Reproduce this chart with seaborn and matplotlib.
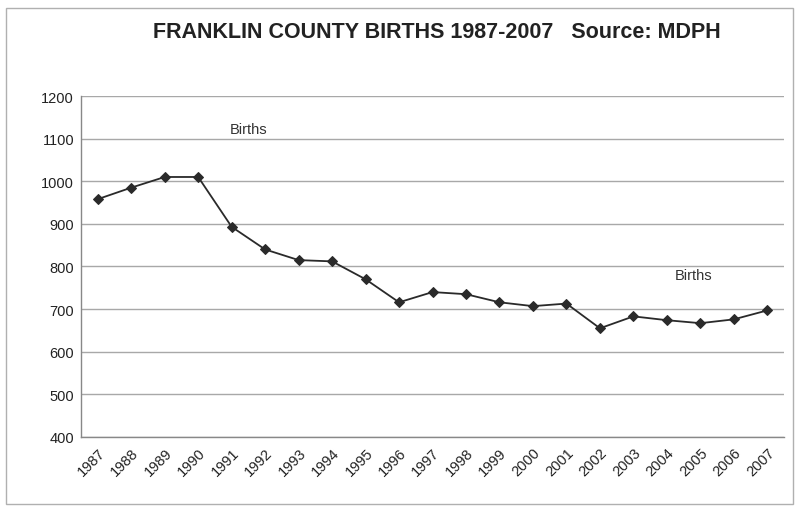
import matplotlib
matplotlib.use("Agg")
import matplotlib.pyplot as plt
from matplotlib.patches import Rectangle
import numpy as np
import pandas as pd
import seaborn as sns

years = [str(y) for y in range(1987, 2008)]
births = [958, 985, 1010, 1010, 893, 840, 815, 812, 770, 716, 740,
          735, 716, 707, 713, 655, 683, 674, 667, 676, 697]
y_ticks = [400, 500, 600, 700, 800, 900, 1000, 1100, 1200]
title = "FRANKLIN COUNTY BIRTHS 1987-2007   Source: MDPH"

sns.set_theme(style="white")
plt.rcParams["font.family"] = ["Liberation Sans", "DejaVu Sans"]

df = pd.DataFrame({"Year": years, "Births": births})

fig = plt.figure(figsize=(7.99, 5.10), dpi=100)
fig.patches.append(Rectangle((0.007, 0.01), 0.986, 0.972, transform=fig.transFigure,
                             fill=False, edgecolor="#b0b0b0", linewidth=1.0))
ax = fig.add_axes([0.1014, 0.1412, 0.8799, 0.6686])

sns.lineplot(data=df, x="Year", y="Births", ax=ax, color="#2a2a2a",
             marker="D", markersize=5.5, markeredgecolor="#2a2a2a",
             linewidth=1.3, sort=False)

ax.set_ylim(400, 1200)
ax.set_yticks(y_ticks)
ax.set_yticklabels([str(v) for v in y_ticks], fontsize=10.5, color="#222222")
ax.yaxis.grid(True, color="#a8a8a8", linewidth=1.0)
ax.set_axisbelow(True)

n = len(years)
ax.set_xlim(-0.5, n - 0.5)
ax.set_xticks(range(n))
ax.set_xticklabels(years, rotation=45, ha="right", rotation_mode="anchor",
                   fontsize=10.5, color="#222222")
ax.set_xticks(np.arange(-0.5, n), minor=True)
ax.tick_params(axis="x", which="major", length=0, pad=6)
ax.tick_params(axis="x", which="minor", length=5, direction="inout",
               color="#888888", width=1)
ax.tick_params(axis="y", which="major", length=4, direction="inout",
               color="#888888", width=1, pad=3)
ax.set_xlabel("")
ax.set_ylabel("")

for side in ("top", "right"):
    ax.spines[side].set_visible(False)
for side in ("left", "bottom"):
    ax.spines[side].set_color("#888888")
    ax.spines[side].set_linewidth(1.0)

ax.text(4.5, 1123, "Births", fontsize=10.5, color="#333333", ha="center", va="center")
ax.text(17.8, 781, "Births", fontsize=10.5, color="#333333", ha="center", va="center")

fig.text(0.547, 0.937, title, fontsize=15.5, fontweight="bold", color="#222222",
         ha="center", va="center")

fig.savefig("out.png", dpi=100)
